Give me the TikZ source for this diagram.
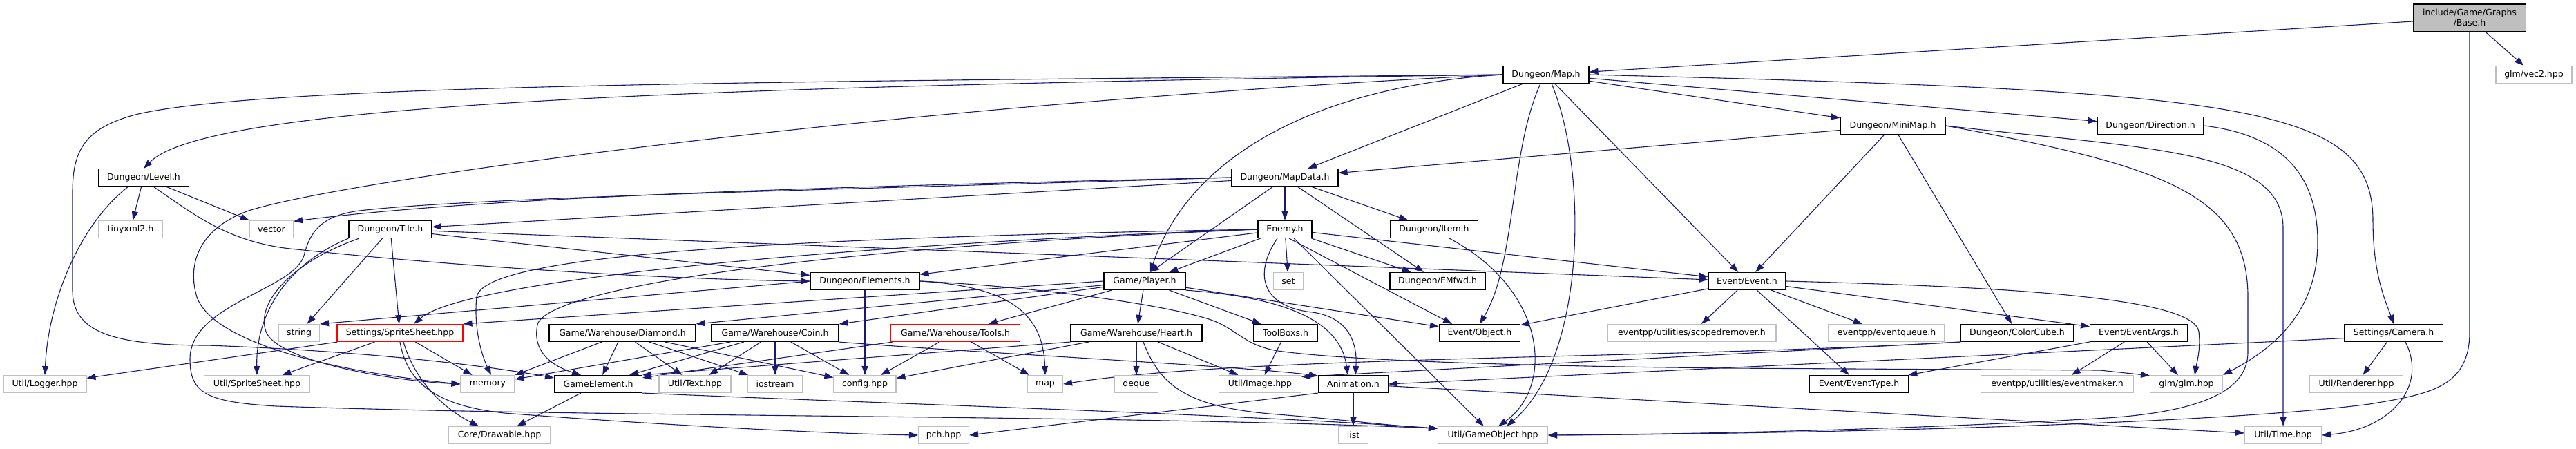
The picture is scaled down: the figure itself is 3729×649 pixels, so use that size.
\documentclass[tikz,border=0pt]{standalone}
\usepackage{fontspec}
\setmainfont{DejaVu Sans}
\usetikzlibrary{arrows.meta,backgrounds}
\definecolor{doxedge}{HTML}{191970}
\definecolor{doxgrey}{HTML}{BFBFBF}
\tikzset{
  doc/.style={draw=black, fill=white, line width=1.1pt, minimum height=25pt, inner sep=2pt, align=center, font=\fontsize{12.5}{15}\selectfont},
  ext/.style={doc, draw=doxgrey},
  trunc/.style={doc, draw=red},
  rootnode/.style={doc, fill=doxgrey, minimum height=40pt},
  dep/.style={-{Triangle[length=13pt,width=9pt]}, line width=1.1pt, color=doxedge},
}
\begin{document}
\begin{tikzpicture}[x=1pt, y=-1pt]
  \useasboundingbox (0,0) rectangle (3729,649);
  \node[rootnode, minimum width=163pt] (base) at (3575,26) {include/Game/Graphs\\/Base.h};
  \node[doc, minimum width=124pt] (map) at (2238,108) {Dungeon/Map.h};
  \node[ext, minimum width=110pt] (vec2) at (3668,108) {glm/vec2.hpp};
  \node[doc, minimum width=152pt] (minimap) at (2740,182) {Dungeon/MiniMap.h};
  \node[doc, minimum width=154pt] (direction) at (3113,182) {Dungeon/Direction.h};
  \node[doc, minimum width=131pt] (level) at (208,257) {Dungeon/Level.h};
  \node[doc, minimum width=154pt] (mapdata) at (1860,257) {Dungeon/MapData.h};
  \node[ext, minimum width=93pt] (tinyxml) at (189,332) {tinyxml2.h};
  \node[ext, minimum width=63pt] (stdvector) at (393,332) {vector};
  \node[doc, minimum width=120pt] (tile) at (565,332) {Dungeon/Tile.h};
  \node[doc, minimum width=78pt] (enemy) at (1860,332) {Enemy.h};
  \node[doc, minimum width=127pt] (item) at (2076,332) {Dungeon/Item.h};
  \node[doc, minimum width=158pt] (elements) at (1252,407) {Dungeon/Elements.h};
  \node[doc, minimum width=118pt] (player) at (1657,407) {Game/Player.h};
  \node[ext, minimum width=43pt] (stdset) at (1865,407) {set};
  \node[doc, minimum width=138pt] (emfwd) at (2081,407) {Dungeon/EMfwd.h};
  \node[doc, minimum width=112pt] (event) at (2529,407) {Event/Event.h};
  \node[ext, minimum width=59pt] (stdstring) at (433,482) {string};
  \node[trunc, minimum width=182pt] (setsheet) at (579,482) {Settings/SpriteSheet.hpp};
  \node[doc, minimum width=212pt] (diamond) at (901,482) {Game/Warehouse/Diamond.h};
  \node[doc, minimum width=184pt] (coin) at (1122,482) {Game/Warehouse/Coin.h};
  \node[trunc, minimum width=187pt] (tools) at (1383,482) {Game/Warehouse/Tools.h};
  \node[doc, minimum width=190pt] (heart) at (1645,482) {Game/Warehouse/Heart.h};
  \node[doc, minimum width=92pt] (toolboxs) at (1861,482) {ToolBoxs.h};
  \node[doc, minimum width=117pt] (object) at (2142,482) {Event/Object.h};
  \node[ext, minimum width=244pt] (scoped) at (2449,482) {eventpp/utilities/scopedremover.h};
  \node[ext, minimum width=168pt] (queue) at (2731,482) {eventpp/eventqueue.h};
  \node[doc, minimum width=163pt] (colorcube) at (2920,482) {Dungeon/ColorCube.h};
  \node[doc, minimum width=141pt] (eventargs) at (3096,482) {Event/EventArgs.h};
  \node[doc, minimum width=143pt] (camera) at (3465,482) {Settings/Camera.h};
  \node[ext, minimum width=120pt] (logger) at (65,556) {Util/Logger.hpp};
  \node[ext, minimum width=153pt] (utilsheet) at (372,556) {Util/SpriteSheet.hpp};
  \node[ext, minimum width=78pt] (stdmemory) at (706,556) {memory};
  \node[doc, minimum width=127pt] (gameelem) at (866,556) {GameElement.h};
  \node[ext, minimum width=104pt] (text) at (1006,556) {Util/Text.hpp};
  \node[ext, minimum width=80pt] (iostream) at (1122,556) {iostream};
  \node[ext, minimum width=90pt] (config) at (1252,556) {config.hpp};
  \node[ext, minimum width=51pt] (stdmap) at (1513,556) {map};
  \node[ext, minimum width=63pt] (stddeque) at (1645,556) {deque};
  \node[ext, minimum width=119pt] (image) at (1824,556) {Util/Image.hpp};
  \node[doc, minimum width=101pt] (animation) at (1959,556) {Animation.h};
  \node[doc, minimum width=143pt] (eventtype) at (2691,556) {Event/EventType.h};
  \node[ext, minimum width=221pt] (eventmaker) at (2978,556) {eventpp/utilities/eventmaker.h};
  \node[ext, minimum width=105pt] (glm) at (3165,556) {glm/glm.hpp};
  \node[ext, minimum width=135pt] (renderer) at (3411,556) {Util/Renderer.hpp};
  \node[ext, minimum width=147pt] (drawable) at (723,630) {Core/Drawable.hpp};
  \node[ext, minimum width=73pt] (pch) at (1366,630) {pch.hpp};
  \node[ext, minimum width=43pt] (stdlist) at (1959,630) {list};
  \node[ext, minimum width=159pt] (gameobj) at (2161,630) {Util/GameObject.hpp};
  \node[ext, minimum width=111pt] (utiltime) at (3305,630) {Util/Time.hpp};
  \begin{scope}[on background layer]
    \draw[dep] (base) -- (map);
    \draw[dep] (base) -- (vec2);
    \draw[dep] (base.south) -- (3575,480) .. controls (3575,560) and (3520,570) .. (3430,585) .. controls (3200,615) and (2600,628) .. (gameobj.east);
    \draw[dep] (map.west) .. controls (1000,125) and (300,150) .. (level.north);
    \draw[dep] (map.west) .. controls (1200,118) and (400,120) .. (200,165) .. controls (120,185) and (105,220) .. (105,280) -- (105,420) .. controls (105,480) and (160,500) .. (300,500) .. controls (450,505) and (650,520) .. (gameelem.172);
    \draw[dep] (map.west) .. controls (1300,150) and (500,260) .. (360,305) .. controls (290,330) and (270,380) .. (285,430) .. controls (310,500) and (500,540) .. (stdmemory.west);
    \draw[dep] (map) -- (mapdata);
    \draw[dep] (map.west) .. controls (1900,125) and (1720,230) .. ([xshift=8pt]player.north);
    \draw[dep] ([xshift=-8pt]map.south) .. controls (2185,220) and (2195,380) .. (object.north);
    \draw[dep] ([xshift=8pt]map.south) .. controls (2300,250) and (2295,520) .. ([xshift=20pt]gameobj.north);
    \draw[dep] (map) -- (event);
    \draw[dep] (map) -- (minimap);
    \draw[dep] (map) -- (direction);
    \draw[dep] (map.east) .. controls (3250,132) and (3435,150) .. (3435,320) .. controls (3435,400) and (3455,440) .. (camera.north);
    \draw[dep] (minimap) -- (mapdata);
    \draw[dep] (minimap) -- (event);
    \draw[dep] (minimap) -- (colorcube);
    \draw[dep] (minimap.east) .. controls (3100,215) and (3305,215) .. (3305,330) -- (utiltime.north);
    \draw[dep] (minimap.east) .. controls (3130,240) and (3254,280) .. (3254,430) -- (3254,510) .. controls (3254,560) and (3200,595) .. (3050,605) .. controls (2800,620) and (2500,628) .. (gameobj.east);
    \draw[dep] (direction.east) .. controls (3300,195) and (3355,250) .. (3355,350) .. controls (3355,460) and (3280,510) .. (glm.north east);
    \draw[dep] (level) -- (tinyxml);
    \draw[dep] (level) -- (stdvector);
    \draw[dep] ([xshift=-22pt]level.south) .. controls (120,320) and (70,430) .. (logger.north);
    \draw[dep] ([xshift=14pt]level.south) .. controls (280,310) and (330,350) .. (420,360) .. controls (700,390) and (1000,405) .. (elements.west);
    \draw[dep] (mapdata.west) .. controls (1200,270) and (700,285) .. (stdvector.20);
    \draw[dep] (mapdata) -- (tile);
    \draw[dep] (mapdata.west) .. controls (1200,275) and (700,285) .. (520,305) .. controls (470,312) and (450,330) .. (440,370) .. controls (425,420) and (275,440) .. (275,520) .. controls (275,570) and (300,582) .. (400,588) .. controls (900,605) and (1600,600) .. (gameobj.173);
    \draw[dep] (mapdata) -- (enemy);
    \draw[dep] ([xshift=-17pt]mapdata.south) -- ([xshift=8pt]player.north);
    \draw[dep] (mapdata) -- (item);
    \draw[dep] ([xshift=18pt]mapdata.south) -- ([xshift=-20pt]emfwd.north);
    \draw[dep] (tile) -- (elements);
    \draw[dep] (tile) -- (event);
    \draw[dep] (tile) -- (stdstring);
    \draw[dep] (tile) -- (setsheet);
    \draw[dep] (tile.south west) .. controls (420,380) and (370,450) .. (utilsheet.north);
    \draw[dep] ([xshift=-45pt]tile.south) .. controls (420,380) and (370,440) .. (385,480) .. controls (400,520) and (550,550) .. (stdmemory.west);
    \draw[dep] (enemy) -- (elements);
    \draw[dep] (enemy.west) .. controls (1300,350) and (680,400) .. ([xshift=20pt]setsheet.north);
    \draw[dep] (enemy.west) .. controls (1100,345) and (700,370) .. (690,430) .. controls (685,480) and (700,520) .. ([xshift=5pt]stdmemory.north);
    \draw[dep] (enemy.west) .. controls (1150,360) and (790,420) .. (778,470) .. controls (770,510) and (800,530) .. ([xshift=-25pt]gameelem.north);
    \draw[dep] (enemy) -- (player);
    \draw[dep] (enemy) -- (stdset);
    \draw[dep] (enemy) -- (emfwd);
    \draw[dep] ([xshift=6pt]enemy.south) -- ([xshift=-40pt]object.north);
    \draw[dep] (enemy) -- (event);
    \draw[dep] ([xshift=-11pt]enemy.south) .. controls (1812,400) and (1830,445) .. (1900,452) .. controls (1955,460) and (1965,500) .. ([xshift=3pt]animation.north);
    \draw[dep] (enemy) -- (gameobj);
    \draw[dep] ([xshift=22pt]item.south) .. controls (2240,420) and (2250,560) .. ([xshift=8pt]gameobj.north);
    \draw[dep] (elements.west) -- (stdstring.north east);
    \draw[dep] (elements) -- (config);
    \draw[dep] (elements.east) .. controls (1470,415) and (1510,460) .. (stdmap.north);
    \draw[dep] (elements.east) .. controls (1500,415) and (1680,440) .. (1750,462) .. controls (1790,475) and (1800,500) .. (1850,508) .. controls (1950,522) and (2200,530) .. (2500,533) -- (3040,536) -- (glm.167);
    \draw[dep] (player.west) -- (setsheet.north east);
    \draw[dep] (player) -- (diamond.north east);
    \draw[dep] (player) -- (coin);
    \draw[dep] (player) -- (tools);
    \draw[dep] (player) -- (heart);
    \draw[dep] (player) -- (toolboxs);
    \draw[dep] (player) -- (object);
    \draw[dep] (player.south east) .. controls (1850,430) and (1940,460) .. ([xshift=-8pt]animation.north);
    \draw[dep] (event) -- (object);
    \draw[dep] (event) -- (scoped);
    \draw[dep] (event) -- (queue);
    \draw[dep] (event) -- (eventtype);
    \draw[dep] (event) -- (eventargs);
    \draw[dep] (event.east) .. controls (2900,415) and (3175,430) .. (3183,480) .. controls (3186,505) and (3180,525) .. ([xshift=12pt]glm.north);
    \draw[dep] (setsheet) -- (logger);
    \draw[dep] (setsheet) -- (utilsheet);
    \draw[dep] (setsheet) -- (stdmemory);
    \draw[dep] ([xshift=5pt]setsheet.south) .. controls (600,550) and (640,590) .. ([xshift=-30pt]drawable.north);
    \draw[dep] (setsheet.south) .. controls (590,560) and (640,588) .. (730,598) .. controls (950,615) and (1200,628) .. (pch.west);
    \draw[dep] ([xshift=-30pt]diamond.south) -- (stdmemory.north east);
    \draw[dep] (diamond) -- (gameelem);
    \draw[dep] (diamond) -- (text);
    \draw[dep] (diamond) -- (iostream);
    \draw[dep] (diamond) -- (config);
    \draw[dep] ([xshift=-65pt]coin.south) -- (stdmemory.10);
    \draw[dep] (coin) -- (gameelem);
    \draw[dep] (coin) -- (text);
    \draw[dep] (coin) -- (iostream);
    \draw[dep] (coin) -- (config);
    \draw[dep] (coin.south east) .. controls (1400,510) and (1800,530) .. (animation.167);
    \draw[dep] (tools) -- (config);
    \draw[dep] (tools) -- (stdmap);
    \draw[dep] (tools) -- (gameelem);
    \draw[dep] (heart) -- (config);
    \draw[dep] (heart) -- (stddeque);
    \draw[dep] (heart) -- (image);
    \draw[dep] (heart.south west) -- (gameelem.north east);
    \draw[dep] ([xshift=10pt]heart.south) .. controls (1680,560) and (1720,590) .. (1850,600) .. controls (1950,608) and (2030,618) .. (gameobj.173);
    \draw[dep] (toolboxs) -- (image);
    \draw[dep] (colorcube.south west) -- (image.10);
    \draw[dep] (colorcube.south west) .. controls (2400,520) and (1800,515) .. (stdmap.east);
    \draw[dep] (eventargs) -- (eventtype);
    \draw[dep] (eventargs) -- (eventmaker);
    \draw[dep] (eventargs) -- (glm);
    \draw[dep] (camera.186) -- (animation.east);
    \draw[dep] (camera) -- (renderer);
    \draw[dep] ([xshift=17pt]camera.south) .. controls (3515,560) and (3460,622) .. (utiltime.east);
    \draw[dep] (gameelem) -- (drawable);
    \draw[dep] (gameelem.south east) .. controls (1300,585) and (1800,600) .. (gameobj.173);
    \draw[dep] (animation) -- (stdlist);
    \draw[dep] (animation.south west) -- (pch.east);
    \draw[dep] (animation) -- (utiltime);
  \end{scope}
\end{tikzpicture}
\end{document}
